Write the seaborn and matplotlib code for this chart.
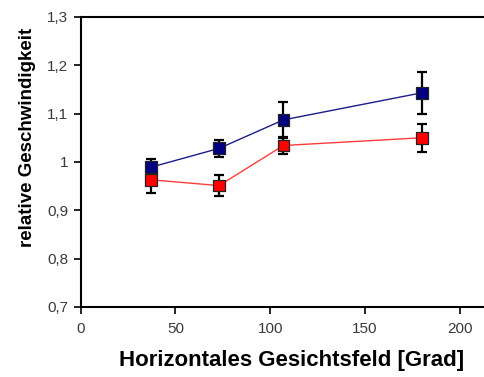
import matplotlib
matplotlib.use("Agg")
import matplotlib.pyplot as plt
import seaborn as sns
import pandas as pd
from matplotlib.ticker import FuncFormatter

# Horizontal field of view (degrees) and relative speed for two conditions
field_of_view = [37, 73, 107, 180]
speed_blue = [0.989, 1.028, 1.087, 1.143]
err_blue = [0.017, 0.018, 0.038, 0.043]
speed_red = [0.963, 0.951, 1.034, 1.050]
err_red = [0.028, 0.021, 0.018, 0.029]

x_ticks = [0, 50, 100, 150, 200]
y_ticks = [0.7, 0.8, 0.9, 1.0, 1.1, 1.2, 1.3]

df = pd.DataFrame({
    "fov": field_of_view * 2,
    "speed": speed_blue + speed_red,
    "err": err_blue + err_red,
    "group": ["blau"] * 4 + ["rot"] * 4,
})

sns.set_theme(style="white")
plt.rcParams["font.family"] = ["Liberation Sans", "DejaVu Sans"]

fig = plt.figure(figsize=(4.85, 3.77), dpi=100)
# the plot area runs a little past the right edge of the figure
ax = fig.add_axes([0.1665, 0.186, 0.871, 0.769])

line_colors = {"blau": "#1c1c8a", "rot": "#ff3c3c"}
face_colors = {"blau": "#000080", "rot": "#ff0000"}

# Connecting lines
sns.lineplot(data=df, x="fov", y="speed", hue="group", palette=line_colors,
             linewidth=1.0, legend=False, ax=ax, zorder=1, estimator=None,
             sort=True)

# Error bars behind the markers
for g, sub in df.groupby("group"):
    ax.errorbar(sub["fov"], sub["speed"], yerr=sub["err"], fmt="none",
                ecolor="black", elinewidth=1.6, capsize=3.3, capthick=1.6,
                zorder=2)

# Square markers
sns.scatterplot(data=df, x="fov", y="speed", hue="group", palette=face_colors,
                marker="s", s=72, edgecolor="#222222", linewidth=0.9,
                legend=False, ax=ax, zorder=3)

ax.set_xlim(0, 223)
ax.set_ylim(0.7, 1.3)
ax.set_xticks(x_ticks)
ax.set_yticks(y_ticks)
ax.yaxis.set_major_formatter(FuncFormatter(
    lambda v, _: (f"{v:.1f}".rstrip("0").rstrip(".")).replace(".", ",")))

for side in ["left", "bottom", "top"]:
    ax.spines[side].set_visible(True)
    ax.spines[side].set_color("black")
    ax.spines[side].set_linewidth(1.5)
ax.spines["right"].set_visible(False)

ax.tick_params(axis="both", which="major", direction="out", length=5,
               width=1.2, color="black", labelsize=11, labelcolor="#3a3a3a",
               left=True, bottom=True)
ax.tick_params(axis="x", pad=6)
ax.tick_params(axis="y", pad=4)

ax.set_xlabel("Horizontales Gesichtsfeld [Grad]", fontsize=16,
              fontweight="bold", color="black")
ax.set_ylabel("relative Geschwindigkeit", fontsize=13.5,
              fontweight="bold", color="black")
ax.xaxis.set_label_coords(0.5, -0.15)
ax.yaxis.set_label_coords(-0.106, 0.583)

fig.savefig("out.png", dpi=100)
